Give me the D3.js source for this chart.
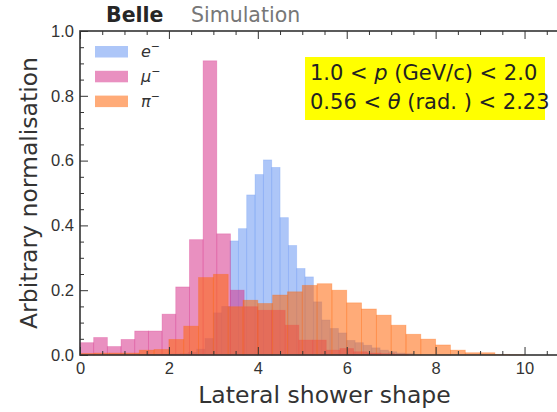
<!DOCTYPE html>
<html>
<head>
<meta charset="utf-8">
<script src="https://cdn.jsdelivr.net/npm/d3@7/dist/d3.min.js"></script>
<style>
  body { margin: 0; background: #fff; }
  svg { display: block; font-family: "DejaVu Sans", sans-serif; }
</style>
</head>
<body>
<svg width="557" height="412"></svg>
<script>
"use strict";

// histogram contents, one value per bin, bins start at 0
const electronWidth = 0.1875;
const electron = [0, 0, 0, 0, 0, 0, 0, 0, 0.001, 0.001, 0.002, 0.003, 0.004, 0.008,
    0.018, 0.051, 0.13, 0.15, 0.352, 0.39, 0.494, 0.557, 0.602, 0.579, 0.424, 0.338,
    0.267, 0.241, 0.164, 0.108, 0.082, 0.068, 0.045, 0.038, 0.03, 0.022, 0.015, 0.01,
    0.006, 0.004];

const muonWidth = 4 / 13;
const muon = [0.038, 0.054, 0.026, 0.048, 0.074, 0.074, 0.126, 0.21, 0.356, 0.908,
    0.374, 0.2, 0.149, 0.138, 0.138, 0.092, 0.046, 0.046, 0.015, 0.02, 0.01, 0.006,
    0.004, 0.002];

const pionWidth = 1 / 3;
const pion = [0.005, 0.006, 0.006, 0.006, 0.015, 0.017, 0.048, 0.089, 0.239, 0.249,
    0.149, 0.169, 0.159, 0.185, 0.195, 0.215, 0.22, 0.2, 0.161, 0.142, 0.123, 0.092,
    0.064, 0.049, 0.031, 0.015, 0.007, 0.007, 0.002, 0.001];

const legendNames = ["e", "\u03bc", "\u03c0"];
const xTicks = [0, 2, 4, 6, 8, 10];
const yTicks = [0, 0.2, 0.4, 0.6, 0.8, 1.0];

const plotLeft = 80, plotRight = 569, plotTop = 31, plotBottom = 355;
const alpha = 0.55;
const colors = ["#6a97f2", "#d7348c", "#ff660a"];

const svg = d3.select("svg");
const x = d3.scaleLinear().domain([0, 11]).range([plotLeft, plotRight]);
const y = d3.scaleLinear().domain([0, 1]).range([plotBottom, plotTop]);

function drawHist(values, width, color) {
    svg.append("g").selectAll("rect")
        .data(values)
        .join("rect")
        .attr("x", (d, i) => x(i * width))
        .attr("width", x(width) - x(0))
        .attr("y", d => y(d))
        .attr("height", d => y(0) - y(d))
        .attr("fill", color)
        .attr("fill-opacity", alpha)
        .attr("stroke", color)
        .attr("stroke-opacity", alpha * 0.6)
        .attr("stroke-width", 0.8);
}

drawHist(electron, electronWidth, colors[0]);
drawHist(muon, muonWidth, colors[1]);
drawHist(pion, pionWidth, colors[2]);

// axes, ticks pointing inwards
const minorX = d3.range(0, 11.01, 0.5).filter(v => v % 2 !== 0);
const minorY = d3.range(0, 1.001, 0.05).filter(v => Math.round(v * 100) % 20 !== 0);

function styleAxis(g) {
    g.select(".domain").remove();
    g.selectAll("line").attr("stroke", "#333").attr("stroke-width", 1);
    g.selectAll("text").attr("fill", "#333").style("font-size", "16.5px");
}

svg.append("g").attr("transform", `translate(0,${plotBottom})`)
    .call(d3.axisBottom(x).tickValues(xTicks).tickSize(-8).tickPadding(7)
        .tickFormat(d3.format("d")))
    .call(styleAxis);
svg.append("g").attr("transform", `translate(0,${plotBottom})`)
    .call(d3.axisBottom(x).tickValues(minorX).tickSize(-4).tickFormat(""))
    .call(styleAxis);
svg.append("g").attr("transform", `translate(0,${plotTop})`)
    .call(d3.axisTop(x).tickValues(xTicks).tickSize(-8).tickFormat(""))
    .call(styleAxis);
svg.append("g").attr("transform", `translate(0,${plotTop})`)
    .call(d3.axisTop(x).tickValues(minorX).tickSize(-4).tickFormat(""))
    .call(styleAxis);
svg.append("g").attr("transform", `translate(${plotLeft},0)`)
    .call(d3.axisLeft(y).tickValues(yTicks).tickSize(-8).tickPadding(6)
        .tickFormat(d3.format(".1f")))
    .call(styleAxis);
svg.append("g").attr("transform", `translate(${plotLeft},0)`)
    .call(d3.axisLeft(y).tickValues(minorY).tickSize(-4).tickFormat(""))
    .call(styleAxis);

svg.append("rect")
    .attr("x", plotLeft).attr("y", plotTop)
    .attr("width", plotRight - plotLeft).attr("height", plotBottom - plotTop)
    .attr("fill", "none").attr("stroke", "#333").attr("stroke-width", 1.6);

// axis titles
svg.append("text")
    .attr("x", (plotLeft + plotRight) / 2).attr("y", 403)
    .attr("text-anchor", "middle").attr("fill", "#333")
    .style("font-size", "23.5px")
    .text("Lateral shower shape");
svg.append("text")
    .attr("transform", `translate(37,${(plotTop + plotBottom) / 2}) rotate(-90)`)
    .attr("text-anchor", "middle").attr("fill", "#333")
    .style("font-size", "23.5px")
    .text("Arbitrary normalisation");

// header
svg.append("text").attr("x", 106).attr("y", 22)
    .attr("fill", "#262626").style("font-size", "20.5px").style("font-weight", "bold")
    .text("Belle");
svg.append("text").attr("x", 191).attr("y", 22)
    .attr("fill", "#777").style("font-size", "20.5px")
    .text("Simulation");

// legend
const legend = svg.append("g");
legendNames.forEach((name, i) => {
    const ly = 46 + i * 24.8;
    legend.append("rect")
        .attr("x", 95).attr("y", ly).attr("width", 33).attr("height", 11.5)
        .attr("fill", colors[i]).attr("fill-opacity", alpha);
    const t = legend.append("text")
        .attr("x", 141).attr("y", ly + 11)
        .attr("fill", "#333").style("font-size", "16px");
    t.append("tspan").style("font-style", "italic").text(name);
    t.append("tspan").attr("dy", -7).style("font-size", "11px").text("\u2212");
});

// kinematic range box
const box = svg.append("g");
box.append("rect")
    .attr("x", 305).attr("y", 57).attr("width", 240).attr("height", 63)
    .attr("fill", "#ffff00");
const line1 = box.append("text").attr("x", 310).attr("y", 80)
    .attr("fill", "#222").style("font-size", "21px").style("white-space", "pre");
line1.append("tspan").text("1.0 < ");
line1.append("tspan").style("font-style", "italic").text("p");
line1.append("tspan").text(" (GeV/c) < 2.0");
const line2 = box.append("text").attr("x", 310).attr("y", 108.5)
    .attr("fill", "#222").style("font-size", "21px").style("white-space", "pre");
line2.append("tspan").text("0.56 < ");
line2.append("tspan").style("font-style", "italic").text("\u03b8");
line2.append("tspan").text(" (rad. ) < 2.23");
</script>
</body>
</html>
